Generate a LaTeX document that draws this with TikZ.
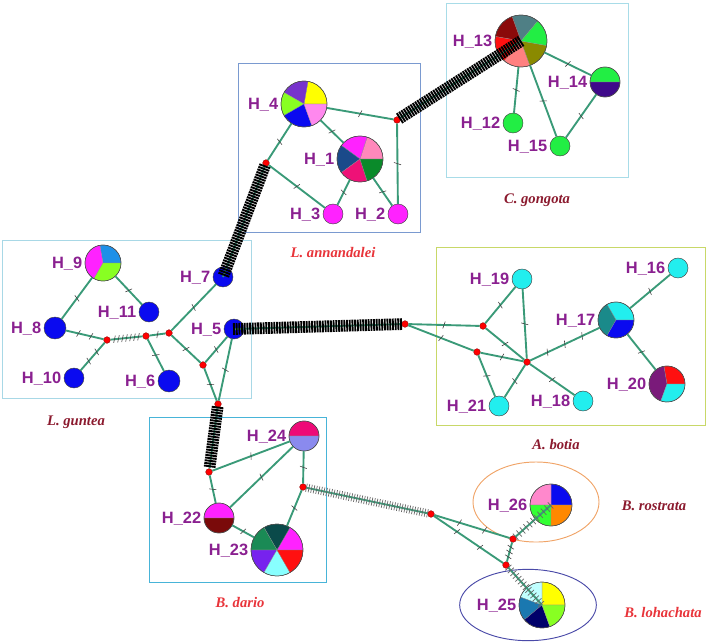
\documentclass[tikz,border=0pt]{standalone}
\usepackage{fontspec}
\setmainfont{Liberation Serif}
\setsansfont{Liberation Sans}
\usetikzlibrary{positioning,decorations.markings,decorations.pathreplacing}
% lines, labels, frames
\definecolor{edgegrn}{HTML}{3A9A78}
\definecolor{hlabel}{HTML}{8A2090}
\definecolor{spdark}{HTML}{8B1A2E}
\definecolor{spred}{HTML}{E8343A}
\definecolor{boxannan}{HTML}{7A9AD0}
\definecolor{boxgong}{HTML}{A8DCE8}
\definecolor{boxgunt}{HTML}{A8D8E6}
\definecolor{boxbotia}{HTML}{C8D868}
\definecolor{boxdario}{HTML}{48B4D8}
\definecolor{ellrost}{HTML}{F0A468}
\definecolor{elllohc}{HTML}{4A4AA8}
% haplotype fills
\definecolor{cmag}{HTML}{FF22FF}
\definecolor{cblue}{HTML}{0A0AF0}
\definecolor{cgreen}{HTML}{22EE44}
\definecolor{ccyan}{HTML}{22EEEE}
\definecolor{cteal}{HTML}{4F7F85}
\definecolor{cdkred}{HTML}{8B0A0A}
\definecolor{cred}{HTML}{FF1010}
\definecolor{csalmon}{HTML}{FF8080}
\definecolor{colive}{HTML}{8A8A00}
\definecolor{cyellow}{HTML}{FFFF00}
\definecolor{cpurple}{HTML}{7733CC}
\definecolor{clime}{HTML}{88FF22}
\definecolor{cpink}{HTML}{FF88EE}
\definecolor{crose}{HTML}{FF88BB}
\definecolor{cnavy}{HTML}{1A4A8A}
\definecolor{ccrimson}{HTML}{EE1177}
\definecolor{cforest}{HTML}{0A8A2A}
\definecolor{csky}{HTML}{1E90E8}
\definecolor{cindigo}{HTML}{3F0A8A}
\definecolor{cdcyan}{HTML}{1A8A8A}
\definecolor{cplum}{HTML}{7A1A7A}
\definecolor{cmaroon}{HTML}{7A0A0A}
\definecolor{cdteal}{HTML}{0A4A4A}
\definecolor{clcyan}{HTML}{88FFFF}
\definecolor{cviolet}{HTML}{7722EE}
\definecolor{cjade}{HTML}{1A8A55}
\definecolor{cberry}{HTML}{EE0A77}
\definecolor{clav}{HTML}{8A8AEE}
\definecolor{cice}{HTML}{C0FFFF}
\definecolor{csteel}{HTML}{1A78B0}
\definecolor{cdnavy}{HTML}{00006A}
\definecolor{corange}{HTML}{FF8800}
\definecolor{cbpink}{HTML}{FF88CC}
\definecolor{cbgreen}{HTML}{33FF33}
\tikzset{
  hap/.style={circle, draw=black!75, line width=0.4pt, inner sep=0pt, minimum size=#1},
  hap/.default=0.6cm,
  mv/.style={circle, fill=red, draw=red!50!black, line width=0.3pt, inner sep=0pt, minimum size=0.2cm},
  hlab/.style={font=\sffamily\bfseries\fontsize{14}{14}\selectfont, text=hlabel, inner sep=0pt, text depth=0pt},
  splab/.style={font=\rmfamily\bfseries\itshape\fontsize{12.5}{13}\selectfont},
  grpbox/.style={draw=#1, line width=0.6pt},
  link/.style={draw=edgegrn, line width=1.6pt},
  mut/.style={postaction={decorate, decoration={markings,
     mark=between positions 1/(#1+1) and #1/(#1+1)+0.001 step 1/(#1+1)
     with {\draw[black!75, line width=0.5pt] (-1pt,-3pt) -- (1pt,3pt);}}}},
  mut/.default=1,
  heavy/.style={draw=edgegrn, line width=1.6pt,
    postaction={draw=black, line width=1.6pt, decorate,
      decoration={ticks, segment length=2.3pt, amplitude=5pt}}},
  light/.style={draw=edgegrn, line width=1.6pt,
    postaction={draw=black!60, line width=0.6pt, decorate,
      decoration={ticks, segment length=#1, amplitude=3.5pt}}},
  light/.default=2.2pt,
  slice/.style={draw=black!45, line width=0.2pt},
}
\newcommand{\hpie}[3]{% node, radius, start/end/colour
  \foreach \a/\b/\c in {#3}
    {\filldraw[slice, fill=\c] (#1.center) -- ++(\a:#2) arc[start angle=\a, end angle=\b, radius=#2] -- cycle;}
  \draw[black!75, line width=0.4pt] (#1.center) circle[radius=#2];
}

\begin{document}
\begin{tikzpicture}[x=0.03cm, y=-0.03cm]
\useasboundingbox (0,0) rectangle (709,642);

% ===== group frames =====
\draw[grpbox=boxgong]  (446,3)   rectangle (628,177);
\draw[grpbox=boxannan] (238,63)  rectangle (420,232);
\draw[grpbox=boxgunt]  (2,240)   rectangle (251,398);
\draw[grpbox=boxbotia] (436,247) rectangle (705,425);
\draw[grpbox=boxdario] (149,417) rectangle (326,582);
\draw[ellrost, line width=0.8pt] (536,502) ellipse [x radius=1.89cm, y radius=1.2cm];
\draw[elllohc, line width=0.8pt] (528,605) ellipse [x radius=2.05cm, y radius=1.07cm];

% ===== haplotypes =====
\node[hap=1.38cm] (h1) at (360,159) {};
\node[hap, fill=cmag] (h2) at (398,214) {};
\node[hap, fill=cmag] (h3) at (333,214) {};
\node[hap=1.38cm] (h4) at (304,104) {};
\node[hap, fill=cblue] (h5) at (234,329) {};
\node[hap=0.66cm, fill=cblue] (h6) at (169,381) {};
\node[hap, fill=cblue] (h7) at (223,277) {};
\node[hap=0.66cm, fill=cblue] (h8) at (55,328) {};
\node[hap=1.08cm] (h9) at (103,263) {};
\node[hap, fill=cblue] (h10) at (74,378) {};
\node[hap, fill=cblue] (h11) at (149,312) {};
\node[hap, fill=cgreen] (h12) at (513,123) {};
\node[hap=1.56cm] (h13) at (521,41) {};
\node[hap=0.9cm] (h14) at (605,82) {};
\node[hap, fill=cgreen] (h15) at (560,146) {};
\node[hap, fill=ccyan] (h16) at (678,268) {};
\node[hap=1.08cm] (h17) at (616,320) {};
\node[hap, fill=ccyan] (h18) at (583,401) {};
\node[hap, fill=ccyan] (h19) at (522,279) {};
\node[hap=1.08cm] (h20) at (667,384) {};
\node[hap, fill=ccyan] (h21) at (499,406) {};
\node[hap=0.9cm] (h22) at (219,518) {};
\node[hap=1.56cm] (h23) at (277,550) {};
\node[hap=0.9cm] (h24) at (304,436) {};
\node[hap=1.38cm] (h25) at (542,605) {};
\node[hap=1.26cm] (h26) at (551,505) {};

\hpie{h1}{0.69cm}{0/72/crose, 72/144/cmag, 144/216/cnavy, 216/288/ccrimson, 288/360/cforest}
\hpie{h4}{0.69cm}{0/80/cyellow, 80/150/cpurple, 150/210/clime, 210/290/cblue, 290/360/cpink}
\hpie{h9}{0.54cm}{0/100/csky, 100/240/cmag, 240/360/clime}
\hpie{h13}{0.78cm}{50/110/cteal, 110/170/cdkred, 170/230/cred, 230/290/csalmon, 290/350/colive, 350/410/cgreen}
\hpie{h14}{0.45cm}{0/180/cgreen, 180/360/cindigo}
\hpie{h17}{0.54cm}{0/120/ccyan, 120/240/cdcyan, 240/360/cblue}
\hpie{h20}{0.54cm}{0/100/cred, 100/250/cplum, 250/360/ccyan}
\hpie{h22}{0.45cm}{0/180/cmag, 180/360/cmaroon}
\hpie{h23}{0.78cm}{0/60/cmag, 60/120/cdteal, 120/180/cjade, 180/240/cviolet, 240/300/clcyan, 300/360/cred}
\hpie{h24}{0.45cm}{0/180/cberry, 180/360/clav}
\hpie{h25}{0.69cm}{0/90/cyellow, 90/160/cice, 160/220/csteel, 220/290/cdnavy, 290/360/clime}
\hpie{h26}{0.63cm}{0/90/cblue, 90/180/cbpink, 180/270/cbgreen, 270/360/corange}

% ===== median vectors =====
\node[mv] (mvA) at (397,120) {};
\node[mv] (mvB) at (266,163) {};
\node[mv] (mvC) at (107,340) {};
\node[mv] (mvD) at (146,336) {};
\node[mv] (mvE) at (169,333) {};
\node[mv] (mvF) at (203,365) {};
\node[mv] (mvG) at (218,404) {};
\node[mv] (mvH) at (405,324) {};
\node[mv] (mvI) at (483,326) {};
\node[mv] (mvJ) at (477,352) {};
\node[mv] (mvK) at (527,362) {};
\node[mv] (mvL) at (209,472) {};
\node[mv] (mvM) at (303,487) {};
\node[mv] (mvN) at (431,514) {};
\node[mv] (mvO) at (513,539) {};
\node[mv] (mvP) at (506,565) {};

% ===== haplotype labels =====
\foreach \h/\t in {h1/H\_1, h2/H\_2, h3/H\_3, h4/H\_4, h5/H\_5, h6/H\_6, h7/H\_7,
  h8/H\_8, h9/H\_9, h10/H\_10, h11/H\_11, h12/H\_12, h13/H\_13, h14/H\_14,
  h15/H\_15, h16/H\_16, h17/H\_17, h18/H\_18, h19/H\_19, h20/H\_20, h21/H\_21,
  h22/H\_22, h23/H\_23, h24/H\_24, h25/H\_25, h26/H\_26}
  { \node[hlab, left=2pt of \h] (lab-\h) {\t}; }

% ===== species labels =====
\node[splab, text=spdark] (spgong) at (537,200) {C. gongota};
\node[splab, text=spred]  (spannan) at (333,253) {L. annandalei};
\node[splab, text=spdark] (spgunt) at (76,422) {L. guntea};
\node[splab, text=spdark] (spbotia) at (556,445) {A. botia};
\node[splab, text=spred]  (spdario) at (240,603) {B. dario};
\node[splab, text=spdark] (sprost) at (654,506) {B. rostrata};
\node[splab, text=spred]  (splohc) at (663,613) {B. lohachata};

% ===== L. annandalei =====
\draw[link, mut] (h4) -- (mvA);
\draw[link, mut] (mvA) -- (h2);
\draw[link, mut] (h4) -- (h1);
\draw[link, mut] (h1) -- (h3);
\draw[link, mut] (h1) -- (h2);
\draw[link, mut] (h4) -- (mvB);
\draw[link, mut] (mvB) -- (h3);

% ===== C. gongota =====
\draw[link, mut] (h13) -- (h12);
\draw[link, mut] (h13) -- (h15);
\draw[link, mut] (h13) -- (h14);
\draw[link, mut] (h14) -- (h15);

% ===== L. guntea =====
\draw[link, mut] (h9) -- (h8);
\draw[link, mut] (h9) -- (h11);
\draw[link, mut=2] (h8) -- (mvC);
\draw[link, mut=2] (mvC) -- (h10);
\draw[link, mut=7] (mvC) -- (mvD);
\draw[link, mut] (mvD) -- (h6);
\draw[link, mut] (mvD) -- (mvE);
\draw[link, mut] (mvE) -- (h7);
\draw[link, mut] (mvE) -- (mvF);
\draw[link, mut] (mvF) -- (h5);
\draw[link, mut] (mvF) -- (mvG);
\draw[link, mut] (h5) -- (mvG);

% ===== A. botia =====
\draw[link, mut] (mvH) -- (mvI);
\draw[link, mut] (mvH) -- (mvJ);
\draw[link, mut] (mvI) -- (h19);
\draw[link, mut] (mvI) -- (mvK);
\draw[link, mut] (mvJ) -- (mvK);
\draw[link, mut] (h19) -- (mvK);
\draw[link, mut] (mvJ) -- (h21);
\draw[link, mut] (mvK) -- (h21);
\draw[link, mut] (mvK) -- (h18);
\draw[link, mut=3] (mvK) -- (h17);
\draw[link, mut] (h17) -- (h16);
\draw[link, mut] (h17) -- (h20);

% ===== B. dario =====
\draw[link, mut] (mvL) -- (h24);
\draw[link, mut] (mvL) -- (h22);
\draw[link, mut] (h22) -- (h24);
\draw[link, mut] (h22) -- (h23);
\draw[link, mut] (h24) -- (mvM);
\draw[link, mut] (mvM) -- (h23);

% ===== B. rostrata / B. lohachata =====
\draw[link, mut=2] (mvN) -- (mvO);
\draw[link, mut=2] (mvN) -- (mvP);
\draw[link, mut=3] (mvO) -- (mvP);

% ===== long branches (many steps) =====
\draw[heavy] (mvA) -- (h13.center);
\draw[heavy] (mvB) -- (h7.center);
\draw[heavy] (h5.center) -- (mvH);
\draw[heavy] (mvG) -- (mvL);
\draw[light] (mvM) -- (mvN);
\draw[light=4pt] (mvO) -- (h26.center);
\draw[light=3.2pt] (mvP) -- (h25.center);

\end{tikzpicture}
\end{document}
